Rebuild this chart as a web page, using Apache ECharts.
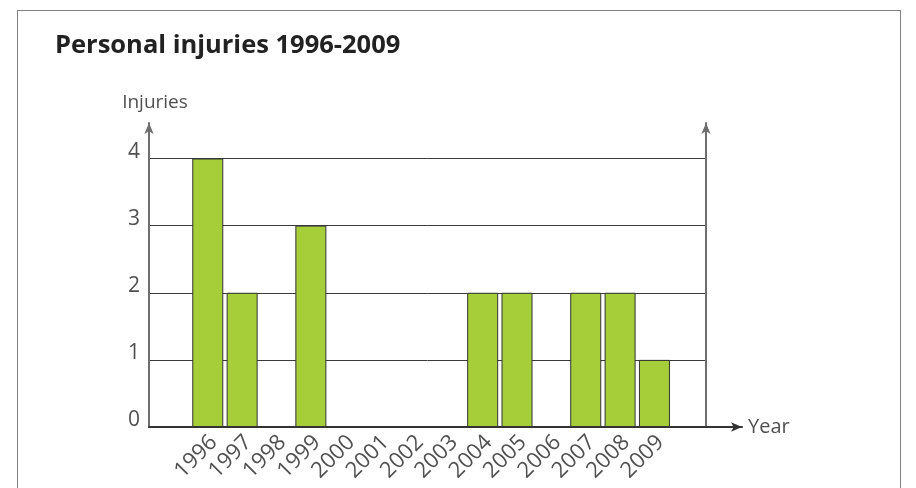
<!DOCTYPE html>
<html>
<head>
<meta charset="utf-8">
<script src="https://cdn.jsdelivr.net/npm/echarts@6/dist/echarts.min.js"></script>
<style>
  html, body { margin: 0; padding: 0; background: #fff; }
  #wrap { position: relative; width: 916px; height: 488px; overflow: hidden; }
  #frame { position: absolute; left: 17px; top: 10px; width: 882px; height: 500px;
           border: 1.5px solid #808080; border-bottom: none; pointer-events: none; }
  #chart { position: absolute; left: 0; top: 0; width: 916px; height: 488px; }
</style>
</head>
<body>
<div id="wrap">
  <div id="frame"></div>
  <div id="chart"></div>
</div>
<script>
// Personal injuries per year
const years = ['1996','1997','1998','1999','2000','2001','2002','2003','2004','2005','2006','2007','2008','2009'];
const injuries = [4, 2, 0, 3, 0, 0, 0, 0, 2, 2, 0, 2, 2, 1];
const yTicks = [0, 1, 2, 3, 4];

const FONT = '"Open Sans", "Noto Sans", sans-serif';
const TEXT = '#505050';

// one empty band after 2009 leaves room before the right-hand axis
const categories = years.concat(['']);
const barValues = injuries.concat(['-']);

const chart = echarts.init(document.getElementById('chart'), null, { renderer: 'canvas' });

const hiddenAxis = { show: false };

chart.setOption({
  animation: false,
  title: {
    text: 'Personal injuries 1996-2009',
    left: 50, top: 28,
    textStyle: { fontFamily: FONT, fontWeight: 'bold', fontSize: 25.5, color: '#222' }
  },
  grid: [
    // 0: value scale, gridlines and tick labels
    { left: 149, right: 210, top: 158.5, bottom: 61 },
    // 1: tall vertical axes with arrows (left and right)
    { left: 149, right: 210, top: 123, bottom: 61 },
    // 2: bars
    { left: 190.6, right: 210, top: 158.5, bottom: 61 },
    // 3: horizontal axis with arrow
    { left: 149, right: 174, top: 158.5, bottom: 61 },
    // 4: year labels, nudged slightly right of the bar centres
    { left: 196.6, right: 204, top: 158.5, bottom: 61 }
  ],
  xAxis: [
    Object.assign({ type: 'value', gridIndex: 0, min: 0, max: 1 }, hiddenAxis),
    Object.assign({ type: 'value', gridIndex: 1, min: 0, max: 1 }, hiddenAxis),
    {
      type: 'category', gridIndex: 2, data: categories,
      axisLine: { show: false }, axisTick: { show: false }, axisLabel: { show: false }
    },
    {
      type: 'value', gridIndex: 3, min: 0, max: 1,
      axisLine: {
        show: true, symbol: ['none', 'arrow'], symbolSize: [7, 11],
        lineStyle: { color: '#333', width: 2 }
      },
      axisTick: { show: false }, axisLabel: { show: false }, splitLine: { show: false },
      name: 'Year', nameLocation: 'end', nameGap: 6,
      nameTextStyle: { fontFamily: FONT, fontSize: 20, color: TEXT }
    },
    {
      type: 'category', gridIndex: 4, data: categories,
      axisLine: { show: false }, axisTick: { show: false },
      axisLabel: {
        interval: 0, rotate: 45, margin: 12,
        fontFamily: FONT, fontSize: 22, color: TEXT
      }
    }
  ],
  yAxis: [
    {
      type: 'value', gridIndex: 0, min: 0, max: 4, interval: 1,
      axisLine: { show: false }, axisTick: { show: false },
      axisLabel: {
        margin: 9, fontFamily: FONT, fontSize: 21, color: TEXT,
        verticalAlign: 'bottom', lineHeight: 13,
        formatter: v => (yTicks.indexOf(v) >= 0 ? String(v) : '')
      },
      splitLine: { show: true, lineStyle: { color: '#3a3a3a', width: 1 } }
    },
    {
      type: 'value', gridIndex: 1, min: 0, max: 1, position: 'left',
      axisLine: {
        show: true, symbol: ['none', 'arrow'], symbolSize: [7, 11],
        lineStyle: { color: '#6e6e6e', width: 2 }
      },
      axisTick: { show: false }, axisLabel: { show: false }, splitLine: { show: false },
      name: 'Injuries', nameLocation: 'end', nameGap: 11,
      nameTextStyle: { fontFamily: FONT, fontSize: 19, color: TEXT, padding: [0, 0, 0, 12] }
    },
    {
      type: 'value', gridIndex: 1, min: 0, max: 1, position: 'right',
      axisLine: {
        show: true, symbol: ['none', 'arrow'], symbolSize: [7, 11],
        lineStyle: { color: '#6e6e6e', width: 2 }
      },
      axisTick: { show: false }, axisLabel: { show: false }, splitLine: { show: false }
    },
    Object.assign({ type: 'value', gridIndex: 2, min: 0, max: 4 }, hiddenAxis),
    Object.assign({ type: 'value', gridIndex: 3, min: 0, max: 4 }, hiddenAxis),
    Object.assign({ type: 'value', gridIndex: 4, min: 0, max: 4 }, hiddenAxis)
  ],
  series: [
    {
      type: 'bar', xAxisIndex: 2, yAxisIndex: 3,
      data: barValues, barWidth: 31,
      itemStyle: { color: '#a6ce39', borderColor: '#333', borderWidth: 1 }
    }
  ]
});
</script>
</body>
</html>
